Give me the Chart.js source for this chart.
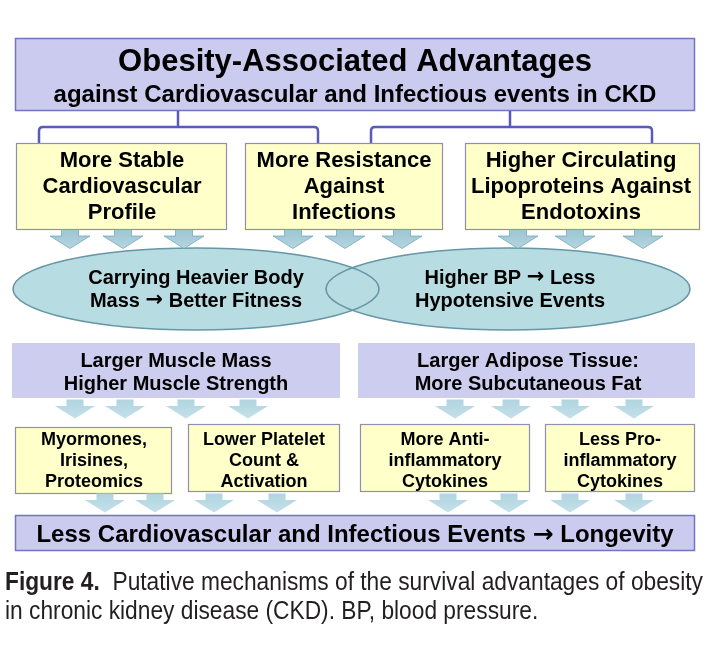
<!DOCTYPE html>
<html>
<head>
<meta charset="utf-8">
<script src="https://cdn.jsdelivr.net/npm/chart.js@4.4.1/dist/chart.umd.min.js"></script>
<style>
  body { margin: 0; background: #fff; }
  canvas { display: block; }
</style>
</head>
<body>
<canvas id="diagram" width="708" height="646"></canvas>
<script>
// diagram texts
const headline = ['Obesity-Associated Advantages', 'against Cardiovascular and Infectious events in CKD'];
const advantages = [
    ['More Stable', 'Cardiovascular', 'Profile'],
    ['More Resistance', 'Against', 'Infections'],
    ['Higher Circulating', 'Lipoproteins Against', 'Endotoxins']
];
const fitness = [
    ['Carrying Heavier Body', 'Mass \u2192 Better Fitness'],
    ['Higher BP \u2192 Less', 'Hypotensive Events']
];
const tissues = [
    ['Larger Muscle Mass', 'Higher Muscle Strength'],
    ['Larger Adipose Tissue:', 'More Subcutaneous Fat']
];
const mediators = [
    ['Myormones,', 'Irisines,', 'Proteomics'],
    ['Lower Platelet', 'Count &', 'Activation'],
    ['More Anti-', 'inflammatory', 'Cytokines'],
    ['Less Pro-', 'inflammatory', 'Cytokines']
];
const outcome = 'Less Cardiovascular and Infectious Events \u2192 Longevity';
const captionLabel = 'Figure 4.';
const captionLines = [
    '  Putative mechanisms of the survival advantages of obesity',
    'in chronic kidney disease (CKD). BP, blood pressure.'
];

// layout (chart units = pixels of the 708x646 page, y grows downwards)
const layout = {
    top: [15, 38, 695, 111],
    advantageBoxes: [[16, 143, 227, 230], [245, 143, 443, 230], [465, 143, 700, 230]],
    brackets: [[39, 318, 178], [371, 652, 510]],
    ellipses: [[196, 289, 183, 41], [508, 289, 182, 41]],
    tissueBoxes: [[12, 343, 340, 398], [358, 343, 695, 398]],
    mediatorBoxes: [[15, 427, 172, 494], [188, 424, 340, 492], [360, 424, 530, 492], [545, 424, 695, 492]],
    bottom: [15, 515, 695, 551],
    arrowsA: [[70, 239], [123, 239], [184, 239], [293, 239], [345, 239], [402, 239], [518, 239], [575, 239], [643, 239]],
    arrowsB: [[75, 409], [125, 409], [186, 409], [248, 409], [455, 409], [511, 409], [570, 409], [634, 409]],
    arrowsC: [[105, 503], [155, 503], [214, 503], [277, 503], [448, 503], [509, 503], [570, 503], [634, 503]]
};

const FONT = '"Liberation Sans", Arial, sans-serif';
const ARROW_FONT = '"DejaVu Sans", sans-serif';

function makeArrow(light) {
    const c = document.createElement('canvas');
    c.width = 42; c.height = 20;
    const g = c.getContext('2d');
    const grad = g.createLinearGradient(0, 0, 0, 20);
    grad.addColorStop(0, light ? '#b0d4df' : '#9cc4d2');
    grad.addColorStop(1, light ? '#c4e1e9' : '#b4d6e1');
    g.fillStyle = grad;
    g.beginPath();
    g.moveTo(12.5, 0.5); g.lineTo(29.5, 0.5); g.lineTo(29.5, 7); g.lineTo(41, 7);
    g.lineTo(21, 19.5); g.lineTo(1, 7); g.lineTo(12.5, 7);
    g.closePath();
    g.fill();
    if (!light) {
        g.strokeStyle = 'rgba(110,160,180,0.7)';
        g.lineWidth = 1;
        g.stroke();
    }
    return c;
}
const arrowDark = makeArrow(false);
const arrowLight = makeArrow(true);

function toPoints(list) {
    return list.map(p => ({ x: p[0], y: p[1] }));
}

// draws a centred line, with the arrow sign taken from a font that has a bold one
function drawMixed(ctx, text, cx, cy, size) {
    const parts = text.split('\u2192');
    const main = 'bold ' + size + 'px ' + FONT;
    const arrow = 'bold ' + Math.round(size * 1.05) + 'px ' + ARROW_FONT;
    const pieces = [];
    parts.forEach((p, i) => {
        if (i > 0) pieces.push({ t: '\u2192', f: arrow });
        if (p) pieces.push({ t: p, f: main });
    });
    let total = 0;
    pieces.forEach(pc => { ctx.font = pc.f; pc.w = ctx.measureText(pc.t).width; total += pc.w; });
    let x = cx - total / 2;
    ctx.textAlign = 'left';
    pieces.forEach(pc => { ctx.font = pc.f; ctx.fillText(pc.t, x, cy); x += pc.w; });
}

const diagramPlugin = {
    id: 'diagram',
    beforeDatasetsDraw(chart) {
        const ctx = chart.ctx;
        const xs = chart.scales.x, ys = chart.scales.y;
        const px = v => xs.getPixelForValue(v);
        const py = v => ys.getPixelForValue(v);
        const rect = (r, fill, stroke, lw) => {
            const x0 = px(r[0]), y0 = py(r[1]), x1 = px(r[2]), y1 = py(r[3]);
            ctx.fillStyle = fill;
            ctx.fillRect(x0, y0, x1 - x0, y1 - y0);
            if (stroke) {
                ctx.strokeStyle = stroke;
                ctx.lineWidth = lw || 1;
                ctx.strokeRect(x0 + 0.5, y0 + 0.5, x1 - x0 - 1, y1 - y0 - 1);
            }
        };
        ctx.save();
        rect(layout.top, '#cbcbef', '#7474c4', 1.5);

        // brackets
        ctx.strokeStyle = '#5a5ab8';
        ctx.lineWidth = 2.5;
        layout.brackets.forEach(b => {
            ctx.beginPath();
            ctx.moveTo(px(b[0]), py(143));
            ctx.lineTo(px(b[0]), py(131));
            ctx.quadraticCurveTo(px(b[0]), py(127), px(b[0] + 4), py(127));
            ctx.lineTo(px(b[1] - 4), py(127));
            ctx.quadraticCurveTo(px(b[1]), py(127), px(b[1]), py(131));
            ctx.lineTo(px(b[1]), py(143));
            ctx.moveTo(px(b[2]), py(127));
            ctx.lineTo(px(b[2]), py(111));
            ctx.stroke();
        });

        layout.advantageBoxes.forEach(r => rect(r, '#ffffca', '#8f8fb0', 1.2));

        // ellipses: fills first, then both outlines so the overlap shows
        layout.ellipses.forEach(e => {
            ctx.beginPath();
            ctx.ellipse(px(e[0]), py(e[1]), e[2], e[3], 0, 0, Math.PI * 2);
            ctx.fillStyle = '#b7dce2';
            ctx.fill();
        });
        ctx.strokeStyle = '#6796a6';
        ctx.lineWidth = 1.6;
        layout.ellipses.forEach(e => {
            ctx.beginPath();
            ctx.ellipse(px(e[0]), py(e[1]), e[2], e[3], 0, 0, Math.PI * 2);
            ctx.stroke();
        });

        layout.tissueBoxes.forEach(r => rect(r, '#cdcdef'));
        layout.mediatorBoxes.forEach(r => rect(r, '#ffffca', '#8f8fb0', 1.2));
        rect(layout.bottom, '#cbcbef', '#7474c4', 1.5);
        ctx.restore();
    },
    afterDatasetsDraw(chart) {
        const ctx = chart.ctx;
        const xs = chart.scales.x, ys = chart.scales.y;
        const px = v => xs.getPixelForValue(v);
        const py = v => ys.getPixelForValue(v);
        const centerX = r => (r[0] + r[2]) / 2;
        ctx.save();
        ctx.fillStyle = '#000';
        ctx.textBaseline = 'middle';
        const lines = (arr, cx, rows, size) => {
            arr.forEach((t, i) => drawMixed(ctx, t, px(cx), py(rows[i]), size));
        };

        lines([headline[0]], centerX(layout.top), [62], 31);
        lines([headline[1]], centerX(layout.top), [95], 24);

        const advCx = [122, 344, 581];
        advantages.forEach((a, i) => lines(a, advCx[i], [161, 187, 213], 22));

        const fitCx = [196, 510];
        fitness.forEach((a, i) => lines(a, fitCx[i], [278, 301], 20));

        const tisCx = [176, 528];
        tissues.forEach((a, i) => lines(a, tisCx[i], [361, 384], 20));

        const medCx = [94, 264, 445, 620];
        mediators.forEach((a, i) => lines(a, medCx[i], [440, 461, 482], 18));

        lines([outcome], centerX(layout.bottom), [535], 24);

        // caption in a condensed look: Liberation Sans squeezed horizontally
        ctx.textAlign = 'left';
        ctx.fillStyle = '#231f20';
        const size = 25;
        const target = 698;
        ctx.font = 'bold ' + size + 'px ' + FONT;
        const lw = ctx.measureText(captionLabel).width;
        ctx.font = size + 'px ' + FONT;
        const squeeze = target / (lw + ctx.measureText(captionLines[0]).width);
        ctx.translate(px(5), 0);
        ctx.scale(squeeze, 1);
        ctx.font = 'bold ' + size + 'px ' + FONT;
        ctx.fillText(captionLabel, 0, py(583));
        ctx.font = size + 'px ' + FONT;
        ctx.fillText(captionLines[0], lw, py(583));
        ctx.fillText(captionLines[1], 0, py(612));
        ctx.restore();
    }
};

new Chart(document.getElementById('diagram'), {
    type: 'scatter',
    data: {
        datasets: [
            { data: toPoints(layout.arrowsA), pointStyle: arrowDark },
            { data: toPoints(layout.arrowsB), pointStyle: arrowLight },
            { data: toPoints(layout.arrowsC), pointStyle: arrowLight }
        ]
    },
    options: {
        responsive: false,
        animation: false,
        events: [],
        layout: { padding: 0, autoPadding: false },
        scales: {
            x: { type: 'linear', min: 0, max: 708, display: false },
            y: { type: 'linear', min: 0, max: 646, reverse: true, display: false }
        },
        plugins: {
            legend: { display: false },
            tooltip: { enabled: false }
        }
    },
    plugins: [diagramPlugin]
});
</script>
</body>
</html>
